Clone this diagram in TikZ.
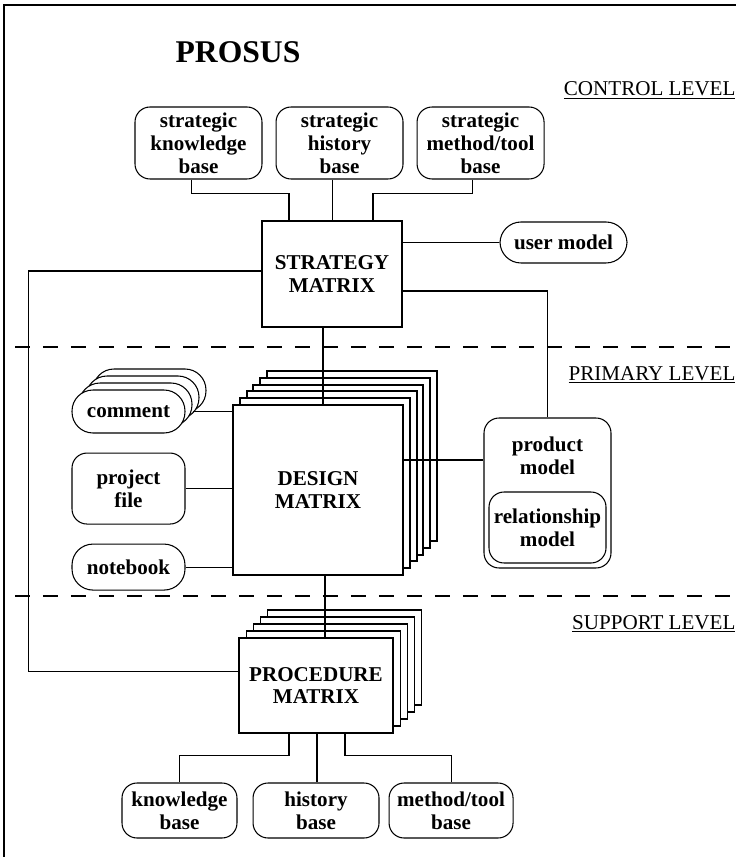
\documentclass[tikz,border=0pt]{standalone}
\usepackage{fontspec}
\setmainfont{Liberation Serif}
\usetikzlibrary{positioning}

\begin{document}
\begin{tikzpicture}[x=.02cm,y=-.02cm,line width=.6pt,
      every node/.style={font=\bfseries\fontsize{12}{13}\selectfont,align=center,inner sep=0pt},
      base/.style={draw,fill=white,rounded corners=.3cm,minimum width=2.54cm,minimum height=1.44cm},
      pill/.style={draw,fill=white,rounded corners=.42cm,minimum width=2.26cm,minimum height=.86cm},
      matrixbox/.style={draw,fill=white,minimum width=3.08cm,minimum height=1.9cm},
      designbox/.style={draw,fill=white,line width=1.2pt,minimum width=3.4cm,minimum height=3.4cm},
      levelname/.style={font=\fontsize{12}{13}\selectfont,anchor=base east},
      levelline/.style={dash pattern=on .3cm off .26cm}]
      \useasboundingbox (0,0) rectangle (736,857);
      \draw (4,857) -- (4,5) -- (736,5);
      \node (title) at (238,52) {\fontsize{18}{20}\selectfont PROSUS};
      % levels
      \node[levelname] (ctl) at (736,96) {\underline{CONTROL LEVEL}};
      \node[levelname] (pri) at (736,380) {\underline{PRIMARY LEVEL}};
      \node[levelname] (sup) at (736,629) {\underline{SUPPORT LEVEL}};
      \draw[levelline] (15,347) -- (736,347);
      \draw[levelline] (15,596) -- (736,596);
      % control level
      \node[base] (skb) at (198.5,143) {strategic\\knowledge\\base};
      \node[base,right=.26cm of skb] (shb) {strategic\\history\\base};
      \node[base,right=.26cm of shb] (smb) {strategic\\method/tool\\base};
      \node[draw,fill=white,minimum width=2.8cm,minimum height=2.12cm] (sm) at (332,274) {STRATEGY\\MATRIX};
      \node[pill,minimum width=2.54cm,minimum height=.82cm] (um) at (563.5,242.5) {user model};
      % primary level
      \foreach \k in {3,2,1}
        \node[pill] (cm\k) at (128.5+7*\k,411.5-7*\k) {};
      \node[pill] (cm) at (128.5,411.5) {comment};
      \node[base,minimum width=2.26cm,minimum height=1.42cm,below=.38cm of cm] (pf) {project\\file};
      \node[pill,minimum height=.92cm,below=.38cm of pf] (nb) {notebook};
      \foreach \k in {5,...,1}
        \node[designbox] (dm\k) at (318+6.8*\k,490-6.8*\k) {};
      \node[designbox,line width=1.6pt] (dm) at (318,490) {DESIGN\\MATRIX};
      \node[base,minimum height=3cm] (pm) at (547.5,493) {};
      \node (pmtext) at (547.5,456) {product\\model};
      \node[base,minimum width=2.34cm,minimum height=1.42cm] (rm) at (547.5,527.5) {relationship\\model};
      % support level
      \foreach \k in {4,...,1}
        \node[matrixbox] (pmx\k) at (316+7.2*\k,685.5-7*\k) {};
      \node[matrixbox] (pmx) at (316,685.5) {PROCEDURE\\MATRIX};
      \node[base,minimum width=2.3cm,minimum height=1.1cm] (kb) at (179.5,810.5) {knowledge\\base};
      \node[base,minimum width=2.52cm,minimum height=1.1cm,right=.3cm of kb] (hb) {history\\base};
      \node[base,minimum width=2.48cm,minimum height=1.1cm,right=.18cm of hb] (mb) {method/tool\\base};
      % links
      \draw ([xshift=-.14cm]skb.south) -- ++(0,14) -| ([xshift=-.86cm]sm.north);
      \draw ([xshift=-.14cm]shb.south) -- ([xshift=-.14cm]shb.south |- sm.north);
      \draw ([xshift=-.16cm]smb.south) -- ++(0,14) -| ([xshift=.82cm]sm.north);
      \draw (um.west) -- (um.west -| sm.east);
      \draw ([yshift=-.34cm]sm.east) -| (pm.north);
      \draw ([yshift=.06cm]sm.west) -- ++(-233,0) |- ([yshift=.28cm]pmx.west);
      \draw ([xshift=-.18cm]sm.south) -- ([xshift=-.18cm]sm.south |- dm.north);
      \draw (cm1.east |- cm.east) -- (dm.west |- cm.east);
      \draw (pf.east) -- (dm.west |- pf.east);
      \draw (nb.east) -- (dm.west |- nb.east);
      \draw ([yshift=.6cm]dm.east) -- ([yshift=.6cm]dm.east -| pm.west);
      \draw ([xshift=.14cm]dm.south) -- ([xshift=.14cm]dm.south |- pmx.north);
      \draw ([xshift=-.54cm]pmx.south) -- ++(0,22) -| (kb.north);
      \draw ([xshift=.02cm]pmx.south) -- ([xshift=.02cm]pmx.south |- hb.north);
      \draw ([xshift=.58cm]pmx.south) -- ++(0,22) -| (mb.north);
    \end{tikzpicture}
\end{document}
